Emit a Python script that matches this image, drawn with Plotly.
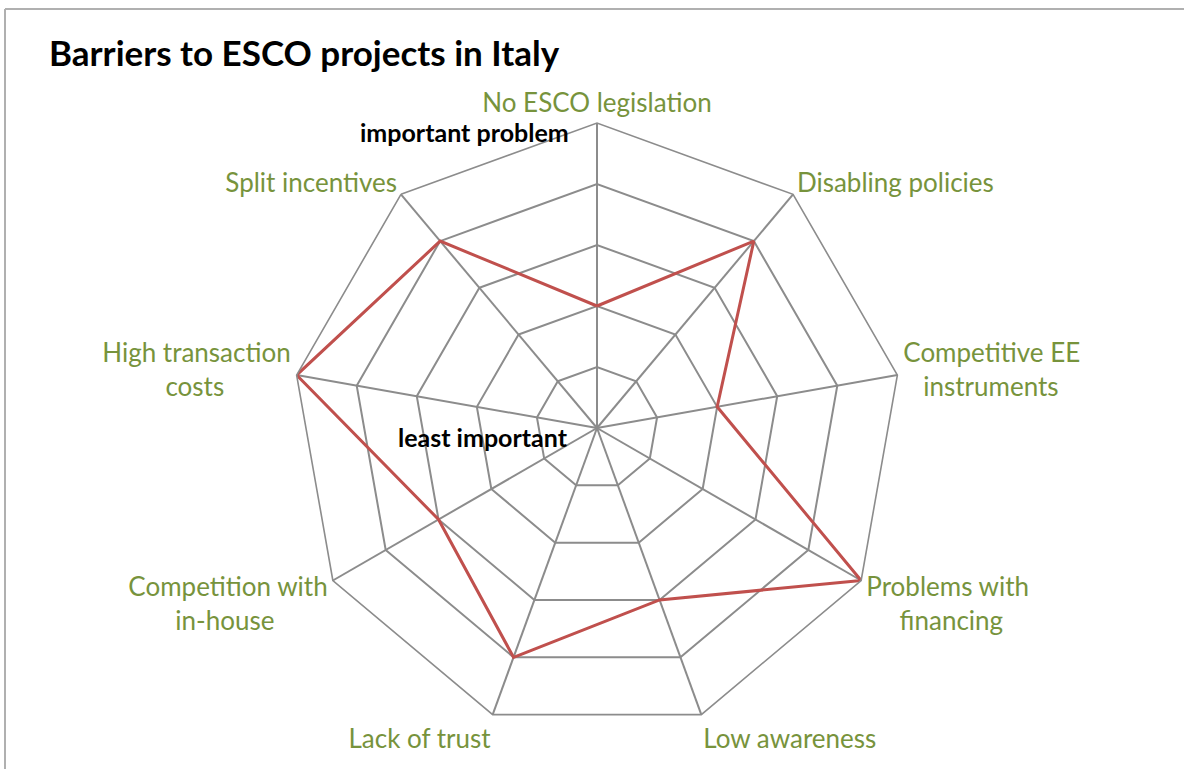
import plotly.graph_objects as go

NB = "\u00a0"
categories = ["No ESCO legislation", "Disabling policies",
              "Competitive EE<br>" + NB * 3 + "instruments",
              "Problems with<br>" + NB * 5 + "financing",
              "Low awareness", "Lack of trust",
              "Competition with<br>in-house" + NB * 8,
              "High transaction<br>costs" + NB * 10,
              "Split incentives"]
values = [2, 4, 2, 5, 3, 4, 3, 5, 4]

W, H = 1184, 769
cx, cy, R = 597, 428, 305

fig = go.Figure()
fig.add_trace(go.Scatterpolar(
    r=values + [values[0]],
    theta=categories + [categories[0]],
    mode="lines",
    line=dict(color="#C0504D", width=3),
    showlegend=False,
    hoverinfo="skip",
))

fig.update_layout(
    width=W, height=H, autosize=False,
    margin=dict(l=0, r=0, t=0, b=0),
    paper_bgcolor="white",
    plot_bgcolor="white",
    font=dict(family="Lato", size=26, color="#77933C"),
    polar=dict(
        domain=dict(x=[(cx - R) / W, (cx + R) / W], y=[1 - (cy + R) / H, 1 - (cy - R) / H]),
        bgcolor="white",
        gridshape="linear",
        radialaxis=dict(range=[0, 5], dtick=1, showticklabels=False, ticks="",
                        showline=False, gridcolor="#8c8c8c", gridwidth=1.6),
        angularaxis=dict(direction="clockwise", rotation=90, ticks="",
                         showline=True, linecolor="#8c8c8c", linewidth=1.6,
                         gridcolor="#8c8c8c", gridwidth=1.6,
                         tickfont=dict(family="Lato", size=26, color="#77933C")),
    ),
    shapes=[
        dict(type="line", xref="paper", yref="paper", x0=5 / W, x1=1, y0=1 - 9 / H, y1=1 - 9 / H,
             line=dict(color="#b0b0b0", width=2)),
        dict(type="line", xref="paper", yref="paper", x0=5 / W, x1=5 / W, y0=0, y1=1 - 9 / H,
             line=dict(color="#b0b0b0", width=2)),
    ],
    annotations=[
        dict(text="<b>Barriers to ESCO projects in Italy</b>", xref="paper", yref="paper",
             x=47 / W, y=1 - 52 / H, xanchor="left", yanchor="middle", showarrow=False,
             font=dict(family="Lato", size=35, color="black")),
        dict(text="<b>important problem</b>", xref="paper", yref="paper",
             x=464 / W, y=1 - 132 / H, xanchor="center", yanchor="middle", showarrow=False,
             font=dict(family="Lato", size=25, color="black")),
        dict(text="<b>least important</b>", xref="paper", yref="paper",
             x=483 / W, y=1 - 437 / H, xanchor="center", yanchor="middle", showarrow=False,
             font=dict(family="Lato", size=25, color="black")),
    ],
)

fig.write_html("out.html", config={"displayModeBar": False},
               post_script="document.body.style.margin='0';")
